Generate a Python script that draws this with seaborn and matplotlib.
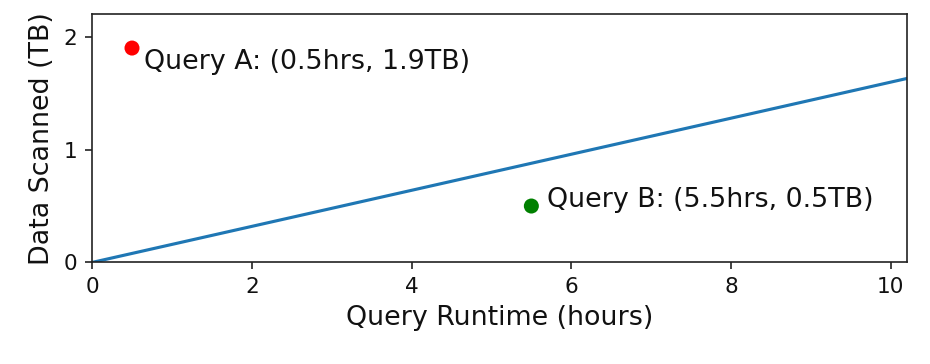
import matplotlib
matplotlib.use("Agg")
import matplotlib.pyplot as plt
import seaborn as sns
import pandas as pd

# Data
line_x = [0.0, 10.2]
line_y = [0.0, 1.63]
query_names = ["Query A", "Query B"]
query_hours = [0.5, 5.5]
query_tb = [1.9, 0.5]
query_colors = ["red", "green"]
query_labels = ["Query A: (0.5hrs, 1.9TB)", "Query B: (5.5hrs, 0.5TB)"]
label_dx = [0.15, 0.19]
label_dy = [-0.19, -0.01]

sns.set_style("ticks")
plt.rcParams["font.family"] = ["DejaVu Sans"]
plt.rcParams["font.size"] = 10

fig = plt.figure(figsize=(6.2, 364 / 150), dpi=150)
ax = fig.add_axes([0.099, 0.279, 0.876, 0.682])

line_df = pd.DataFrame({"x": line_x, "y": line_y})
sns.lineplot(data=line_df, x="x", y="y", ax=ax, color="#1f77b4", linewidth=1.5)

pts = pd.DataFrame({"name": query_names, "hours": query_hours, "tb": query_tb})
sns.scatterplot(data=pts, x="hours", y="tb", hue="name",
                palette=dict(zip(query_names, query_colors)),
                s=52, linewidth=0, ax=ax, legend=False, zorder=3)

for hx, ty, lab, dx, dy in zip(query_hours, query_tb, query_labels, label_dx, label_dy):
    ax.text(hx + dx, ty + dy, lab, fontsize=12.9, color="#111111", va="baseline", ha="left")

ax.set_xlim(0, 10.2)
ax.set_ylim(0, 2.2)
ax.set_xticks([0, 2, 4, 6, 8, 10])
ax.set_yticks([0, 1, 2])
ax.set_xlabel("Query Runtime (hours)", fontsize=12.9, color="#111111")
ax.set_ylabel("Data Scanned (TB)", fontsize=12.9, color="#111111")
for s in ax.spines.values():
    s.set_color("#222222")
    s.set_linewidth(0.8)
ax.tick_params(colors="#222222", labelcolor="#111111", labelsize=10.4)

fig.savefig("out.png", dpi=150)
